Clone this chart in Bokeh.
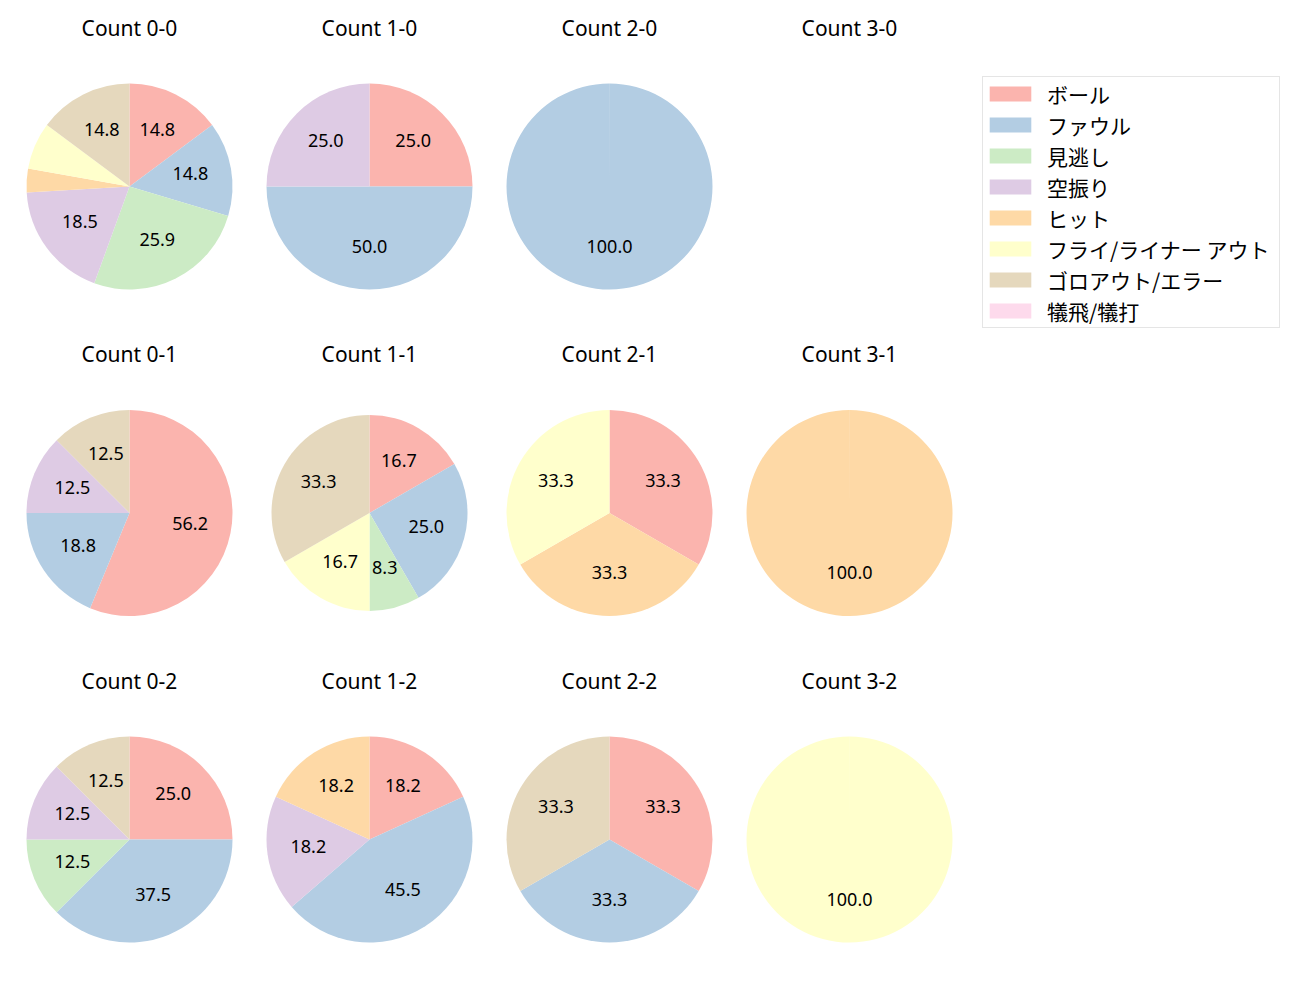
import numpy as np
from bokeh.plotting import figure
from bokeh.models import ColumnDataSource, Range1d, Legend, LegendItem
from bokeh.core.properties import value
from bokeh.embed import file_html
from bokeh.resources import INLINE

# ---- data ----
categories = ["ボール", "ファウル", "見逃し", "空振り", "ヒット",
              "フライ/ライナー アウト", "ゴロアウト/エラー", "犠飛/犠打"]
colors = ["#fbb4ae", "#b3cde3", "#ccebc5", "#decbe4", "#fed9a6",
          "#ffffcc", "#e5d8bd", "#fddaec"]

# panel order: Count 0-0, 1-0, 2-0, 3-0, 0-1, 1-1, 2-1, 3-1, 0-2, 1-2, 2-2, 3-2
panel_balls = [0, 1, 2, 3, 0, 1, 2, 3, 0, 1, 2, 3]
panel_strikes = [0, 0, 0, 0, 1, 1, 1, 1, 2, 2, 2, 2]

ball = [4, 1, 0, 0, 9, 2, 1, 0, 2, 2, 1, 0]
foul = [4, 2, 1, 0, 3, 3, 0, 0, 3, 5, 1, 0]
called = [7, 0, 0, 0, 0, 1, 0, 0, 1, 0, 0, 0]
swing = [5, 1, 0, 0, 2, 0, 0, 0, 1, 2, 0, 0]
hit = [1, 0, 0, 0, 0, 0, 1, 1, 0, 2, 0, 0]
fly = [2, 0, 0, 0, 0, 2, 1, 0, 0, 0, 0, 1]
grounder = [4, 0, 0, 0, 2, 4, 0, 0, 1, 0, 1, 0]
sacrifice = [0, 0, 0, 0, 0, 0, 0, 0, 0, 0, 0, 0]

series = [ball, foul, called, swing, hit, fly, grounder, sacrifice]

# ---- layout (pixel-like data space) ----
W, H = 1284, 984
col_x0, col_dx = 129, 240
row_y0, row_dy = 186, 326.5
R = 103
panel_radius = [R, R, R, R, R, 98, R, R, R, R, R, R]
title_offset = 159
label_dist = 0.6
min_label_pct = 8.0
FONT = "Noto Sans"
JFONT = "Noto Sans CJK JP"

def centre(i):
    cx = col_x0 + col_dx * panel_balls[i]
    cy = 1000 - (row_y0 + row_dy * panel_strikes[i])
    return cx, cy

p = figure(width=W, height=H, output_backend="svg", toolbar_location=None,
           x_range=Range1d(0, W), y_range=Range1d(1000 - H, 1000),
           min_border=0, x_axis_type=None, y_axis_type=None)
p.outline_line_color = None
p.grid.visible = False
p.background_fill_color = "white"
p.border_fill_color = "white"

npan = len(panel_balls)
totals = [sum(s[i] for s in series) for i in range(npan)]

wedge_data = {j: dict(x=[], y=[], r=[], start=[], end=[]) for j in range(len(series))}
lab = dict(x=[], y=[], text=[])

for i in range(npan):
    tot = totals[i]
    if tot == 0:
        continue
    cx, cy = centre(i)
    r = panel_radius[i]
    cum = 0.0
    for j, s in enumerate(series):
        c = s[i]
        if c == 0:
            continue
        c0 = cum / tot
        c1 = (cum + c) / tot
        cum += c
        end = np.pi / 2 - 2 * np.pi * c0
        start = np.pi / 2 - 2 * np.pi * c1
        if end - start > 2 * np.pi - 1e-3:
            start = end - (2 * np.pi - 1e-3)
        d = wedge_data[j]
        d["x"].append(cx); d["y"].append(cy); d["r"].append(r)
        d["start"].append(start); d["end"].append(end)
        pct = 100.0 * c / tot
        if pct >= min_label_pct:
            mid = np.pi / 2 - 2 * np.pi * (c0 + c1) / 2
            lab["x"].append(cx + label_dist * r * np.cos(mid))
            lab["y"].append(cy + label_dist * r * np.sin(mid))
            lab["text"].append(f"{pct:.1f}")

# categories without any slice still need a (zero-size) entry for the legend swatch
for j in range(len(series)):
    d = wedge_data[j]
    if not d["x"]:
        d["x"].append(0.0); d["y"].append(0.0); d["r"].append(0.0)
        d["start"].append(0.0); d["end"].append(0.1)

renderers = []
for j, cat in enumerate(categories):
    src = ColumnDataSource(wedge_data[j])
    rr = p.wedge(x="x", y="y", radius="r", start_angle="start", end_angle="end",
                 fill_color=colors[j], line_color=None, source=src)
    renderers.append(rr)

p.text(x="x", y="y", text="text", source=ColumnDataSource(lab),
       text_font=value(FONT), text_font_size="18px", text_color="black",
       text_align="center", text_baseline="middle", y_offset=-2)

titles = dict(x=[], y=[], text=[])
for i in range(npan):
    cx, cy = centre(i)
    titles["x"].append(cx)
    titles["y"].append(cy + title_offset)
    titles["text"].append(f"Count {panel_balls[i]}-{panel_strikes[i]}")
p.text(x="x", y="y", text="text", source=ColumnDataSource(titles),
       text_font=value(FONT), text_font_size="21px", text_color="black",
       text_align="center", text_baseline="middle")

legend = Legend(items=[LegendItem(label=c, renderers=[r], index=0) for c, r in zip(categories, renderers)],
                location=(982, H - 77 - 251))
legend.label_text_font = JFONT
legend.label_text_font_size = "21px"
legend.label_text_color = "black"
legend.glyph_width = 52
legend.glyph_height = 19
legend.label_standoff = 11
legend.label_height = 31
legend.label_width = 231
legend.padding = 1
legend.spacing = 0
legend.margin = 0
legend.border_line_color = "#cccccc"
legend.border_line_width = 1
legend.background_fill_color = "white"
legend.background_fill_alpha = 0.8
p.add_layout(legend)

open("out.html", "w").write(file_html(p, INLINE))
